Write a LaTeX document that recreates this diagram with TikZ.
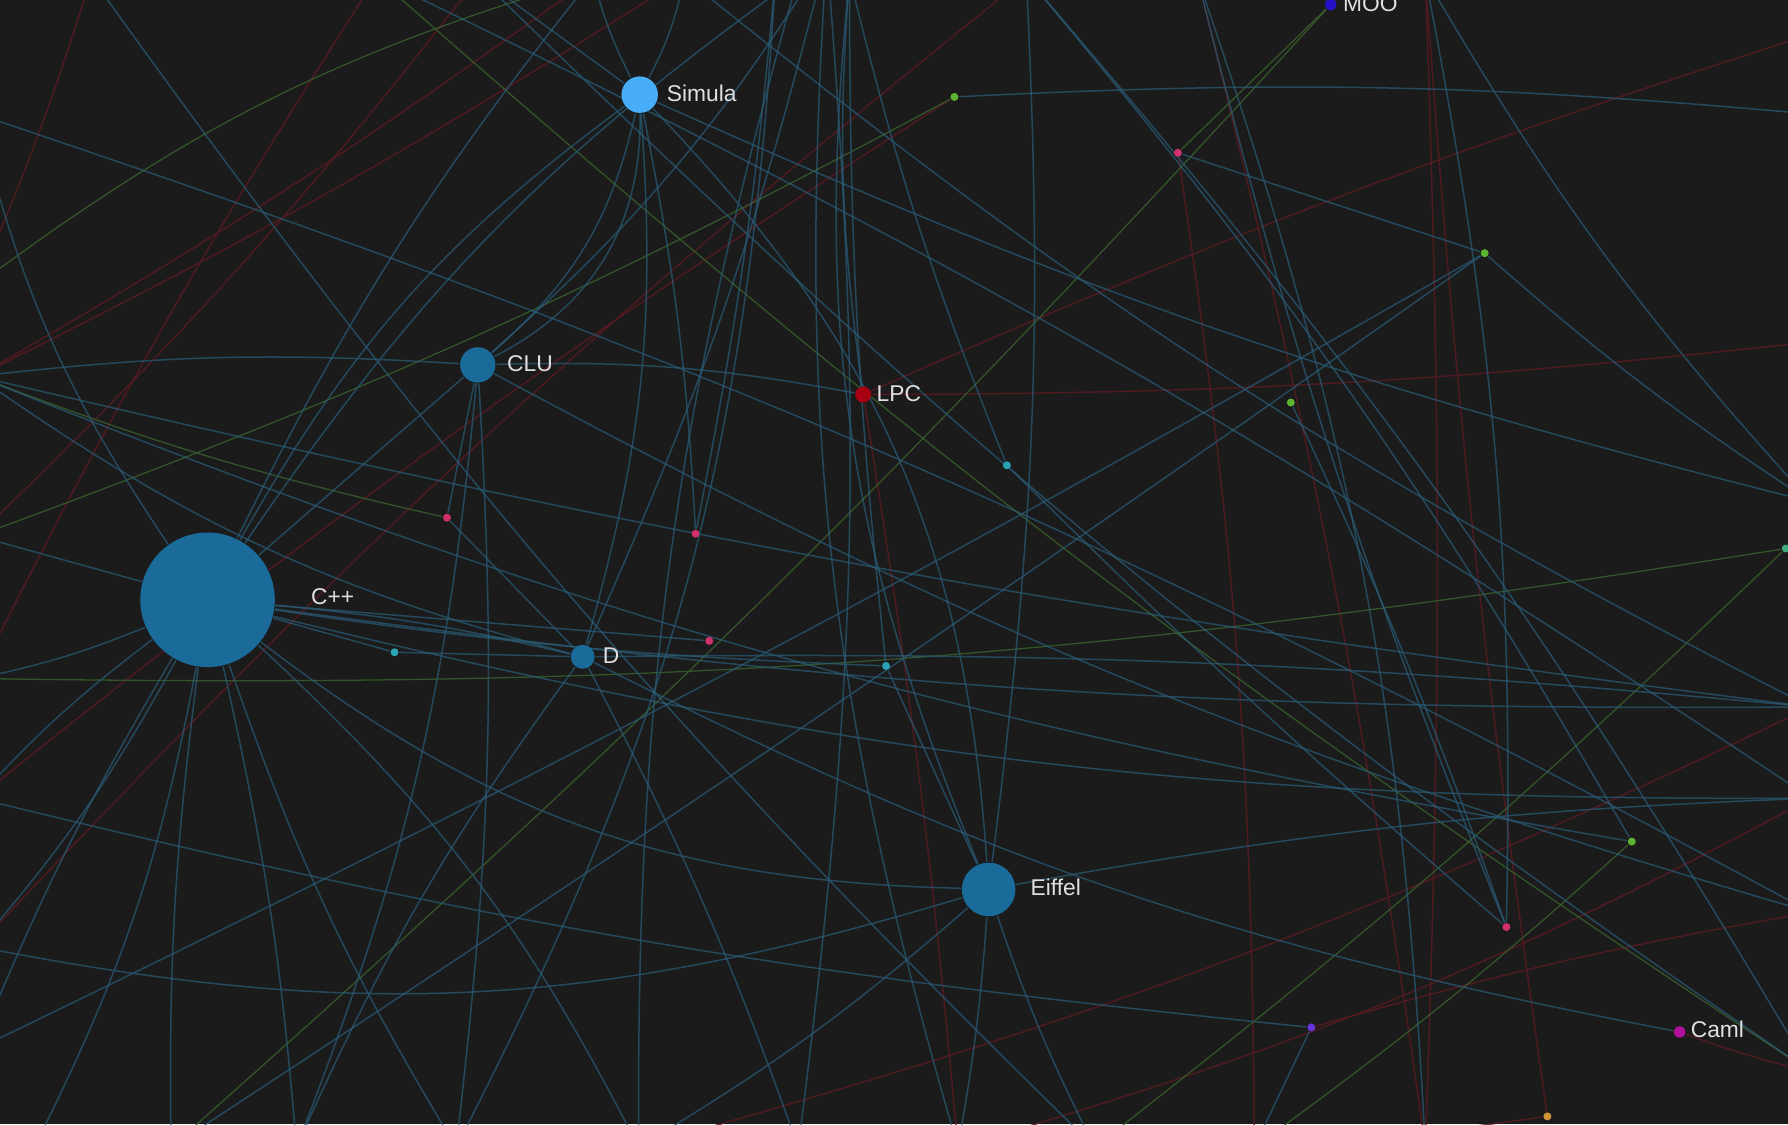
\documentclass[tikz,border=0pt]{standalone}
\usepackage{fontspec}
\setmainfont{Liberation Sans}
\pgfdeclarelayer{bglayer}
\pgfdeclarelayer{edgelayer}
\pgfsetlayers{bglayer,edgelayer,main}
\definecolor{bgc}{HTML}{1B1B1B}
\definecolor{nodeblue}{HTML}{1A6B99}
\definecolor{simblue}{HTML}{47AEF7}
\definecolor{lpcred}{HTML}{A80012}
\definecolor{camlmag}{HTML}{B0109C}
\definecolor{moob}{HTML}{2410C8}
\definecolor{eblue}{HTML}{2A5D78}
\definecolor{ered}{HTML}{561A22}
\definecolor{egreen}{HTML}{3A642E}
\definecolor{dgreen}{HTML}{5CB432}
\definecolor{dpink}{HTML}{D0306C}
\definecolor{dcyan}{HTML}{2AA4B4}
\definecolor{dpurple}{HTML}{6634D8}
\definecolor{dorange}{HTML}{D09434}
\definecolor{labc}{HTML}{E0E0E0}
\tikzset{
  eb/.style={draw=eblue, line width=0.33pt, opacity=0.7},
  er/.style={draw=ered, line width=0.33pt, opacity=0.85},
  eg/.style={draw=egreen, line width=0.28pt, opacity=0.8},
  vtx/.style={circle, inner sep=0pt, draw=none},
  dot/.style={circle, inner sep=0pt, minimum size=1.75pt, draw=none},
  lab/.style={text=labc, font=\fontsize{5}{6}\selectfont, anchor=west, inner sep=0pt}
}
\begin{document}
\begin{tikzpicture}[x=0.25pt,y=-0.25pt]
\begin{pgfonlayer}{bglayer}
\fill[bgc] (0,0) rectangle (1568,986);
\end{pgfonlayer}
\useasboundingbox (0,0) rectangle (1568,986);
% main vertices
\node[vtx, fill=simblue, minimum size=8pt] (simula) at (561,83) {};
\node[vtx, fill=nodeblue, minimum size=7.75pt] (clu) at (419,320) {};
\node[vtx, fill=lpcred, minimum size=3.5pt] (lpc) at (757,346) {};
\node[vtx, fill=nodeblue, minimum size=29.5pt] (cpp) at (182,526) {};
\node[vtx, fill=nodeblue, minimum size=5.25pt] (d) at (511,576) {};
\node[vtx, fill=nodeblue, minimum size=11.75pt] (eiffel) at (867,780) {};
\node[vtx, fill=camlmag, minimum size=2.5pt] (caml) at (1473,905) {};
\node[vtx, fill=moob, minimum size=2.5pt] (moo) at (1167,4) {};
% small vertices
\node[dot, fill=dgreen] (g1) at (837,85) {};
\node[dot, fill=dpink] (p1) at (1033,134) {};
\node[dot, fill=dgreen] (g2) at (1302,222) {};
\node[dot, fill=dgreen] (g3) at (1132,353) {};
\node[dot, fill=dcyan] (c1) at (883,408) {};
\node[dot, fill=dpink] (p2) at (392,454) {};
\node[dot, fill=dpink] (p3) at (610,468) {};
\node[dot, fill=dpink] (p4) at (622,562) {};
\node[dot, fill=dcyan] (c2) at (346,572) {};
\node[dot, fill=dcyan] (c3) at (777,584) {};
\node[dot, fill=dgreen] (g4) at (1431,738) {};
\node[dot, fill=dpink] (p5) at (1321,813) {};
\node[dot, fill=dpurple] (v1) at (1150,901) {};
\node[dot, fill=dorange] (o1) at (1357,979) {};
\node[dot, fill=dcyan!60!dgreen] (c4) at (1566,481) {};
% labels
\node[lab] (simulal) at (584,82) {Simula};
\node[lab] (clul) at (444,319) {CLU};
\node[lab] (lpcl) at (768,345) {LPC};
\node[lab] (cppl) at (272,523) {C++};
\node[lab] (dl) at (528,575) {D};
\node[lab] (eiffell) at (903,778) {Eiffel};
\node[lab] (camll) at (1482,903) {Caml};
\node[lab] (mool) at (1177,3) {MOO};
% off-screen ends
\coordinate (T0) at (725,-40);
\coordinate (Ta) at (700,-20);
\coordinate (Tb) at (745,-20);
\coordinate (Tc) at (680,-20);
\coordinate (T1) at (520,-20);
\coordinate (T2) at (600,-20);
\coordinate (T3) at (420,-20);
\coordinate (T4) at (900,-20);
\coordinate (T5) at (1050,-20);
\coordinate (T6) at (330,-20);
\coordinate (T7) at (80,-20);
\coordinate (T8) at (1250,-20);
\coordinate (L1) at (-20,250);
\coordinate (L2) at (-20,330);
\coordinate (L3) at (-20,470);
\coordinate (L4) at (-20,595);
\coordinate (L5) at (-20,700);
\coordinate (L6) at (-20,830);
\coordinate (L7) at (-20,920);
\coordinate (L8) at (-20,100);
\coordinate (B1) at (150,1006);
\coordinate (B2) at (260,1006);
\coordinate (B3) at (400,1006);
\coordinate (B4) at (560,1006);
\coordinate (B5) at (700,1006);
\coordinate (B6) at (840,1006);
\coordinate (B7) at (960,1006);
\coordinate (B8) at (1100,1006);
\coordinate (B9) at (1250,1006);
\coordinate (B10) at (30,1006);
\coordinate (R1) at (1588,100);
\coordinate (R2) at (1588,300);
\coordinate (R3) at (1588,440);
\coordinate (R4) at (1588,620);
\coordinate (R5) at (1588,700);
\coordinate (R6) at (1588,800);
\coordinate (R7) at (1588,940);
\coordinate (R8) at (1588,30);
\begin{pgfonlayer}{edgelayer}
% red edges
\draw[er] (L3) to[bend right=4] (T3);
\draw[er] (L4) to[bend left=3] (T6);
\draw[er] (L1) to[bend right=3] (T7);
\draw[er] (L2) to[bend right=3] (T1);
\draw[er] (T8) to[bend left=2] (B9);
\draw[er] (T8) to[bend right=2] (o1);
\draw[er] (lpc) to[bend left=3] (R8);
\draw[er] (lpc) to[bend right=3] (R2);
\draw[er] (lpc) to[bend left=2] (B6);
\draw[er] (p1) to[bend left=4] (B8);
\draw[er] (R4) to[bend left=5] (B4);
\draw[er] (R6) to[bend right=3] (v1);
\draw[er] (caml) to[bend right=3] (R7);
\draw[er] (R5) to[bend left=6] (B6);
\draw[er] (T4) to[bend right=4] (L6);
\draw[er] (g1) to[bend right=3] (L5);
\draw[er] (T5) to[bend left=3] (B9);
\draw[er] (o1) to[bend left=6] (B4);
\draw[er] (T2) to[bend left=3] (L2);
% green edges
\draw[eg] (L4) to[bend right=5] (c4);
\draw[eg] (L1) to[bend left=10] (T1);
\draw[eg] (moo) to[bend left=3] (B1);
\draw[eg] (moo) -- (p1);
\draw[eg] (g4) to[bend left=3] (B8);
\draw[eg] (c4) to[bend left=3] (B7);
\draw[eg] (L2) to[bend right=4] (p2);
\draw[eg] (g1) to[bend left=4] (L3);
\draw[eg] (T6) to[bend right=4] (R7);
% blue edges: Simula
\draw[eb] (simula) to[bend left=18] (clu);
\draw[eb] (simula) to[bend left=32] (clu);
\draw[eb] (simula) to[bend left=20] (eiffel);
\draw[eb] (simula) to[bend left=4] (p3);
\draw[eb] (simula) to[bend right=5] (R3);
\draw[eb] (simula) to[bend left=6] (T1);
\draw[eb] (simula) to[bend right=8] (T2);
\draw[eb] (simula) -- (T3);
\draw[eb] (simula) to[bend right=12] (cpp);
\draw[eb] (simula) to[bend left=10] (d);
% top hub
\draw[eb] (Ta) to[bend right=10] (cpp);
\draw[eb] (T0) to[bend left=5] (d);
\draw[eb] (Tc) to[bend left=3] (p3);
\draw[eb] (Tb) to[bend right=3] (c3);
\draw[eb] (T0) to[bend left=8] (clu);
\draw[eb] (Tb) to[bend right=6] (lpc);
\draw[eb] (Ta) to[bend right=8] (B4);
\draw[eb] (T0) to[bend left=6] (B5);
\draw[eb] (Tb) to[bend right=4] (c1);
\draw[eb] (Tc) to[bend left=12] (B3);
\draw[eb] (T0) to[bend right=10] (B6);
\draw[eb] (Tb) to[bend right=14] (eiffel);
% CLU
\draw[eb] (clu) to[bend left=6] (lpc);
\draw[eb] (clu) -- (cpp);
\draw[eb] (clu) to[bend right=6] (R6);
\draw[eb] (clu) to[bend right=5] (L2);
\draw[eb] (clu) to[bend left=5] (B3);
\draw[eb] (clu) -- (p2);
\draw[eb] (clu) to[bend left=8] (B2);
% C++
\draw[eb] (cpp) to[bend left=4] (d);
\draw[eb] (cpp) -- (c2);
\draw[eb] (cpp) to[bend right=18] (eiffel);
\draw[eb] (cpp) to[bend left=6] (T1);
\draw[eb] (cpp) to[bend right=4] (B1);
\draw[eb] (cpp) to[bend left=4] (B2);
\draw[eb] (cpp) to[bend right=6] (B3);
\draw[eb] (cpp) to[bend left=8] (B10);
\draw[eb] (cpp) to[bend left=10] (B4);
\draw[eb] (cpp) -- (L3);
\draw[eb] (cpp) to[bend left=5] (L4);
\draw[eb] (cpp) to[bend right=5] (L5);
\draw[eb] (cpp) to[bend left=6] (L6);
\draw[eb] (cpp) to[bend right=4] (L7);
\draw[eb] (cpp) to[bend right=4] (R4);
\draw[eb] (cpp) to[bend right=7] (R5);
\draw[eb] (cpp) -- (p4);
\draw[eb] (cpp) to[bend right=3] (c3);
\draw[eb] (cpp) to[bend left=10] (L8);
% D
\draw[eb] (d) to[bend right=8] (caml);
\draw[eb] (d) -- (c2);
\draw[eb] (d) to[bend right=6] (B2);
\draw[eb] (d) to[bend left=4] (B5);
\draw[eb] (d) to[bend left=3] (R4);
\draw[eb] (d) -- (p2);
\draw[eb] (d) to[bend left=10] (L2);
% Eiffel
\draw[eb] (eiffel) to[bend left=3] (B6);
\draw[eb] (eiffel) to[bend right=4] (B7);
\draw[eb] (eiffel) to[bend left=14] (L6);
\draw[eb] (eiffel) -- (c3);
\draw[eb] (eiffel) to[bend left=4] (R5);
\draw[eb] (eiffel) to[bend right=5] (T4);
\draw[eb] (eiffel) to[bend left=5] (B4);
% green dot g2
\draw[eb] (g2) to[bend left=2] (L7);
\draw[eb] (g2) to[bend left=1] (B1);
\draw[eb] (g2) -- (p1);
\draw[eb] (g2) to[bend right=4] (R3);
% misc
\draw[eb] (p5) to[bend left=4] (T5);
\draw[eb] (p5) to[bend right=3] (g3);
\draw[eb] (p5) to[bend left=2] (c1);
\draw[eb] (p5) to[bend right=6] (T8);
\draw[eb] (g4) to[bend left=6] (L2);
\draw[eb] (g4) to[bend right=5] (T4);
\draw[eb] (v1) to[bend left=4] (L5);
\draw[eb] (v1) -- (B8);
\draw[eb] (T8) to[bend right=6] (R3);
\draw[eb] (L8) to[bend left=5] (R6);
\draw[eb] (T3) to[bend right=5] (R7);
\draw[eb] (T6) to[bend left=4] (R5);
\draw[eb] (L2) to[bend right=3] (R4);
\draw[eb] (T7) to[bend right=5] (B7);
\draw[eb] (T4) to[bend left=5] (R7);
\draw[eb] (T5) to[bend left=8] (B9);
\draw[eb] (T2) to[bend right=6] (R4);
\draw[eb] (g1) to[bend left=4] (R1);
\end{pgfonlayer}
\end{tikzpicture}
\end{document}
